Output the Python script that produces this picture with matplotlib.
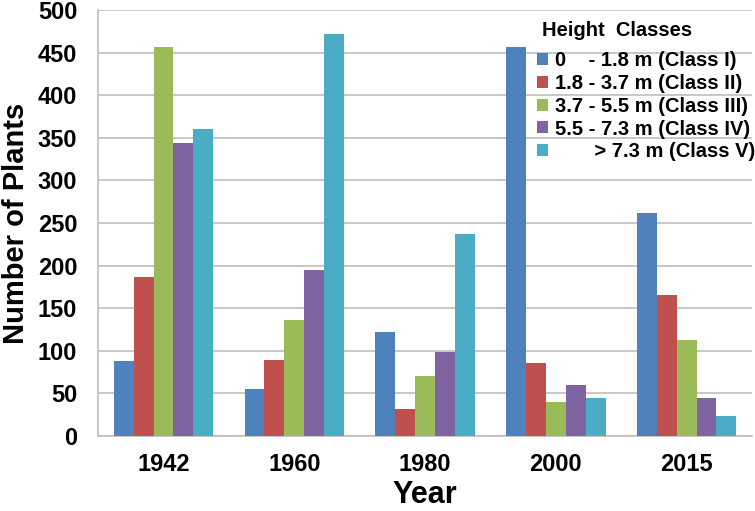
import numpy as np
import matplotlib.pyplot as plt

plt.rcParams['font.family'] = ['Liberation Sans', 'DejaVu Sans']
plt.rcParams['font.weight'] = 'bold'

years = ['1942', '1960', '1980', '2000', '2015']
class_labels = [
    '0    - 1.8 m (Class I)',
    '1.8 - 3.7 m (Class II)',
    '3.7 - 5.5 m (Class III)',
    '5.5 - 7.3 m (Class IV)',
    '       > 7.3 m (Class V)',
]
class_1 = [88, 55, 122, 457, 262]
class_2 = [187, 89, 32, 86, 165]
class_3 = [457, 136, 70, 40, 113]
class_4 = [344, 195, 99, 60, 44]
class_5 = [360, 472, 237, 45, 23]
colors = ['#4F81BD', '#C0504D', '#9BBB59', '#8064A2', '#4BACC6']

series = [class_1, class_2, class_3, class_4, class_5]

fig = plt.figure(figsize=(7.55, 5.11), dpi=100)
ax = fig.add_axes([0.130, 0.147, 0.866, 0.833])

x = np.arange(len(years))
width = 0.76 / len(series)
for i, (vals, lab, col) in enumerate(zip(series, class_labels, colors)):
    ax.bar(x - 0.38 + width * (i + 0.5), vals, width, color=col, label=lab,
           zorder=3)

ax.set_xlim(-0.5, len(years) - 0.5)
ax.set_ylim(0, 500)
ax.set_yticks(np.arange(0, 501, 50))
ax.set_xticks(x)
ax.set_xticklabels(years)
ax.grid(axis='y', color='#BEBEBE', linewidth=1.2, zorder=0)
ax.tick_params(axis='y', labelsize=17, length=0, pad=15)
ax.tick_params(axis='x', labelsize=17, length=0, pad=12)
for side in ['top', 'right']:
    ax.spines[side].set_visible(False)
for side in ['left', 'bottom']:
    ax.spines[side].set_color('#BEBEBE')
    ax.spines[side].set_linewidth(1.2)

ax.set_xlabel('Year', fontsize=22, fontweight='bold', labelpad=3)
ax.set_ylabel('Number of Plants', fontsize=21, fontweight='bold')
ax.yaxis.set_label_coords(-0.104, 0.5)

# legend title drawn separately so its gap to the entries can be set freely
fig.text(542 / 755, 1 - 30 / 511, 'Height  Classes', fontsize=14.5,
         fontweight='bold', ha='left', va='center')
leg = fig.legend(loc='upper left', bbox_to_anchor=(0.700, 1 - 43 / 511),
                 frameon=False, fontsize=14.5, borderaxespad=0,
                 handlelength=0.55, handleheight=0.55, handletextpad=0.35,
                 labelspacing=0.19)

fig.savefig('out.png', dpi=100)
